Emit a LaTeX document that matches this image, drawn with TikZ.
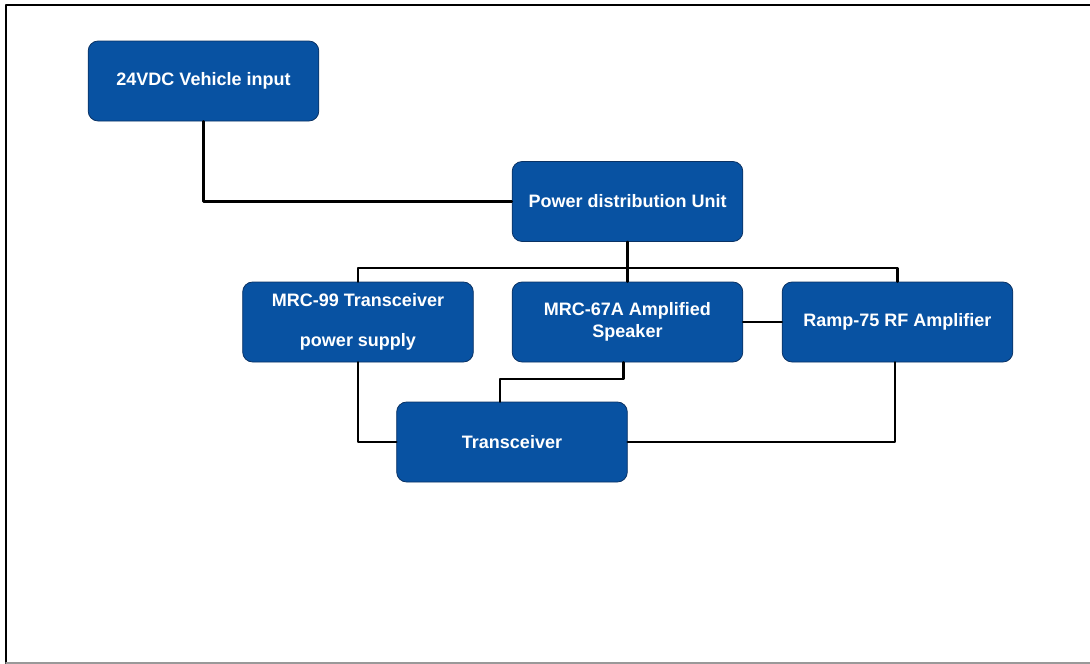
\documentclass[tikz,border=0pt]{standalone}
\usepackage{fontspec}
\setmainfont{Liberation Sans}
\definecolor{boxblue}{RGB}{8,82,162}
\definecolor{boxedge}{RGB}{10,50,100}
\begin{document}
\begin{tikzpicture}[x=0.75pt, y=-0.75pt, line join=round, line cap=round,
	unit/.style={draw=boxedge, line width=0.6pt, fill=boxblue, rounded corners=7.5pt,
		minimum width=173pt, minimum height=60pt, align=center, text=white,
		font=\fontsize{13.5}{16.5}\selectfont\bfseries},
	wire/.style={line width=2pt, black}]
	\useasboundingbox (0,0) rectangle (1090,664);
	% frame
	\draw[line width=1.6pt] (1090,5)--(6,5)--(6,664);
	\draw[line width=1.2pt, gray!80] (6,663)--(1090,663);
	% units
	\node[unit] (in24) at (203.5,81) {24VDC Vehicle input};
	\node[unit] (pdu) at (627.5,201.5) {Power distribution Unit};
	\node[unit, font=\fontsize{13.5}{30}\selectfont\bfseries] (mrc99) at (358,322) {MRC-99 Transceiver\\power supply};
	\node[unit] (mrc67) at (627.5,322) {MRC-67A Amplified\\Speaker};
	\node[unit] (ramp) at (897.5,322) {Ramp-75 RF Amplifier};
	\node[unit] (trx) at (512,442) {Transceiver};
	% wiring
	\coordinate (bus) at (627.5,268);
	\coordinate (jog) at (500,379);
	\draw[wire] (in24.south)|-(pdu.west);
	\draw[wire] (mrc99.north)|-(bus)-|(ramp.north);
	\draw[wire] (pdu.south)--(mrc67.north);
	\draw[wire] (mrc67.east)--(ramp.west);
	\draw[wire] (mrc99.south)|-(trx.west);
	\draw[wire] ([xshift=-3]mrc67.south)|-(jog)--(jog|-trx.north);
	\draw[wire] ([xshift=-2]ramp.south)|-(trx.east);
\end{tikzpicture}
\end{document}
